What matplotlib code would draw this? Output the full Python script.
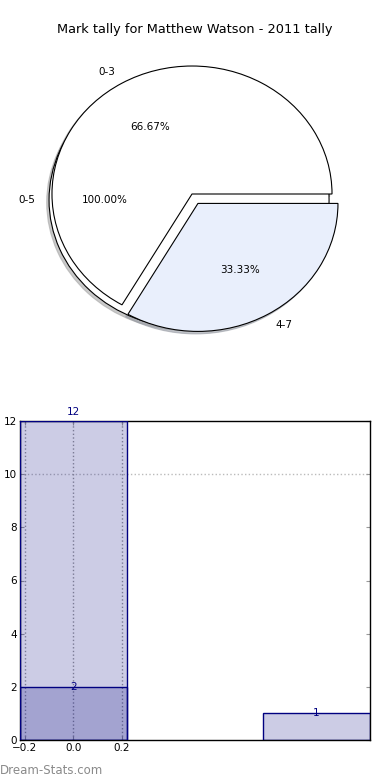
import matplotlib
matplotlib.use("Agg")
import matplotlib.pyplot as plt

# pie data
pie_labels = ['0-3', '4-7']
pie_values = [2, 1]
pie_colors = ['white', '#e9effc']
pie_explode = [0, 0.085]

full_labels = ['0-5']
full_values = [3]

# bar data
bar_x = [0, 0, 1]
bar_vals = [12, 2, 1]
xticks = [-0.2, 0.0, 0.2]
yticks = [0, 2, 4, 6, 8, 10, 12]

navy = '#000080'
shadow = dict(ox=-0.012, oy=-0.014, shade=0.35, alpha=0.6)

fig = plt.figure(figsize=(3.9, 7.8), dpi=100)
fig.text(0.5, 1 - 30 / 780, 'Mark tally for Matthew Watson - 2011 tally',
         ha='center', va='center', fontsize=9.3)

# pie (two pies drawn on top of each other)
ax1 = fig.add_axes([30 / 390, 1 - 328 / 780, 324 / 390, 268 / 780])
ax1.pie(full_values, labels=full_labels, colors=['white'], autopct='%.2f%%',
        shadow=shadow, center=(-0.021, -0.047),
        wedgeprops=dict(edgecolor='black', linewidth=0.8),
        textprops=dict(fontsize=7.5))
ax1.pie(pie_values, labels=pie_labels, colors=pie_colors, explode=pie_explode,
        autopct='%.2f%%', shadow=shadow,
        wedgeprops=dict(edgecolor='black', linewidth=0.8),
        textprops=dict(fontsize=7.5))
ax1.set_aspect('auto')
ax1.set_xlim(-1.157, 1.157)
ax1.set_ylim(-1.047, 1.047)

# bars
ax2 = fig.add_axes([20 / 390, 1 - 740 / 780, 350 / 390, 319 / 780])
ax2.bar(bar_x, bar_vals, width=0.44, color=navy, alpha=0.2, zorder=2)
ax2.bar(bar_x, bar_vals, width=0.44, facecolor='none', edgecolor=navy,
        linewidth=1, zorder=3)
top = max(bar_vals)
for x, v in zip(bar_x, bar_vals):
    off = 9 if v == top else 0
    ax2.annotate(str(v), (x, v), xytext=(0, off), textcoords='offset pixels',
                 ha='center', va='center', fontsize=7.5, color=navy,
                 zorder=5, annotation_clip=False)
ax2.set_xlim(-0.22, 1.22)
ax2.set_ylim(0, 12)
ax2.set_xticks(xticks)
ax2.set_xticklabels(['\u22120.2', '0.0', '0.2'])
ax2.set_yticks(yticks)
ax2.grid(True, axis='x', linestyle=':', color='#999999', linewidth=1, zorder=1)
ax2.axhline(10, linestyle=':', color='#bbbbbb', linewidth=1, zorder=1)
ax2.tick_params(direction='in', top=True, right=True, length=3,
                color='#999999', labelsize=7.5, pad=2)
for s in ax2.spines.values():
    s.set_linewidth(1)

fig.text(0.0, 1 - 770 / 780, 'Dream-Stats.com', ha='left', va='center',
         fontsize=8.5, color='#8a8a8a')

fig.savefig('out.png', dpi=100)
